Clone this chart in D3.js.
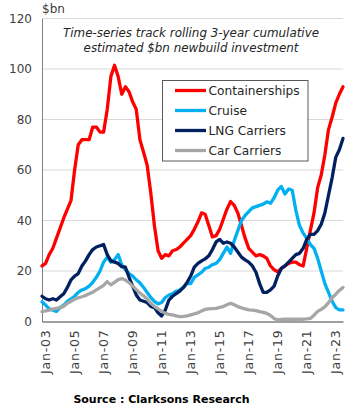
<!DOCTYPE html>
<html>
<head>
<meta charset="utf-8">
<script src="https://cdn.jsdelivr.net/npm/d3@7"></script>
<style>
  html, body { margin: 0; padding: 0; background: #fff; }
  svg { display: block; font-family: "DejaVu Sans", sans-serif; }
</style>
</head>
<body>
<svg id="chart" width="356" height="408"></svg>
<script>
// ---- data (quarterly, Jan-2003 .. Oct-2023), $bn rolling 3-year cumulative ----
const startDate = "2003-01-01";
const quarterCount = 84;

const containerships = [22,23,26.5,29,33,37,41,44.5,48,60,70,72,72,72,77,77,75,75,84,97,101.5,97,90,93,91,87,84,72,67,62,51,38,28,25,26.5,26,28,28.5,29.5,31,32.5,34,36.5,39.5,43,42.5,38,33.5,34,36.5,40.5,44.5,47.5,46,43,38,33,29,27.5,26,26.5,26,25,22,20.5,19.7,21,22,23,23.5,23.5,22.5,22,29,36,43,53,58,66,76,81,86.5,90,93];
const cruise = [7.8,6.5,5,4.5,4,5.5,6.5,8,9,10,11.5,12.5,13,14,15.5,17.5,20,23.5,25.5,23.5,24.5,26.5,22.5,20.5,19,18,16.5,15.3,13.5,11.5,9.5,8,7,7.5,9.5,10.5,11,12,12.5,13.5,15,15,17.5,18.5,19.5,21,21.5,22.5,23,24.5,27,29.5,27,32,36,40,42,43.5,45,45.5,46,46.5,47.4,46.8,49,52,53.5,50.5,52.5,52,44,38,35,33,30.5,29,25,20,15,11.5,8,5.5,4.6,4.6];
const lngCarriers = [10,9,8.5,9,8.5,9.8,11,13.5,16.5,18,19,22,24,26.5,28.5,29.5,30,30.5,26.5,24,23.5,23,21.7,21.5,17.5,14,10.5,8.5,8,7.5,6,5.5,3.5,2.2,4.5,8.5,10,11,12,13.5,15.5,18,21.5,23,24,24.8,26,28.5,31.5,32.5,31,31.5,31,29.5,27.5,25.5,24.4,23.5,22,19.5,15,11.5,11.5,12.5,14,18,21,22,23.5,25,26.5,27,29,32.5,34.5,34.5,36,38.5,43,50,57,65,68,72.5];
const carCarriers = [3.9,4.2,4.5,4.9,5.2,5.5,6,7.2,8,8.8,9.4,9.8,10.3,11,11.6,12.5,13.4,14.3,15.8,14.5,15.5,16.6,17,16.4,15.4,14,12.6,11.2,10.2,8.9,7.2,6,5,4,3.2,2.8,2.6,2.2,1.9,2,2.2,2.6,3,3.4,4.2,4.8,5,5.1,5.2,5.6,5.9,6.6,7.2,6.6,5.9,5.4,5,4.6,4.5,4.3,3.9,3.6,3.2,2.4,1.2,0.6,0.8,0.9,0.9,0.9,0.9,0.9,0.9,1,1.2,2.5,4,4.8,5.8,7.5,9.4,10.8,12.3,13.5];

const seriesNames = ["Containerships", "Cruise", "LNG Carriers", "Car Carriers"];
const seriesColors = ["#FF0000", "#00B0F0", "#002060", "#A6A6A6"];
const yTicks = [0, 20, 40, 60, 80, 100, 120];
const xTickYears = [2003, 2005, 2007, 2009, 2011, 2013, 2015, 2017, 2019, 2021, 2023];
const titleLines = ["Time-series track rolling 3-year cumulative", "estimated $bn newbuild investment"];
const yUnit = "$bn";
const sourceText = "Source : Clarksons Research";

// ---- build ----
const parse = d3.utcParse("%Y-%m-%d");
const t0 = parse(startDate);
const dates = d3.range(quarterCount).map(i => d3.utcMonth.offset(t0, i * 3));
const allSeries = [containerships, cruise, lngCarriers, carCarriers];

const svg = d3.select("#chart");
const m = { left: 42, right: 343, top: 18.5, bottom: 321.5 };

const x = d3.scaleUtc().domain([dates[0], dates[dates.length - 1]]).range([m.left, m.right]);
const y = d3.scaleLinear().domain([0, 120]).range([m.bottom, m.top]);

// gridlines
svg.append("g").selectAll("line").data(yTicks.filter(v => v > 0)).join("line")
  .attr("x1", m.left).attr("x2", m.right)
  .attr("y1", d => y(d)).attr("y2", d => y(d))
  .attr("stroke", "#D9D9D9").attr("stroke-width", 1);

// y axis
const yAxis = svg.append("g").attr("transform", `translate(${m.left},0)`)
  .call(d3.axisLeft(y).tickValues(yTicks).tickSize(0).tickPadding(10));
yAxis.select(".domain").attr("stroke", "#808080").attr("stroke-width", 1);
yAxis.selectAll("text").attr("font-size", 12).attr("fill", "#404040")
  .attr("font-family", "DejaVu Sans, sans-serif");

// x axis
const xTickDates = xTickYears.map(yr => new Date(Date.UTC(yr, 0, 1)));
const xAxis = svg.append("g").attr("transform", `translate(0,${m.bottom})`)
  .call(d3.axisBottom(x).tickValues(xTickDates).tickSize(0).tickFormat(d3.utcFormat("%b-%y")));
xAxis.select(".domain").attr("stroke", "#404040").attr("stroke-width", 1.2);
xAxis.selectAll("text")
  .attr("font-size", 12.5).attr("fill", "#404040")
  .attr("font-family", "DejaVu Sans, sans-serif")
  .attr("letter-spacing", 0.8)
  .attr("text-anchor", "end")
  .attr("transform", "rotate(-90)")
  .attr("x", -8).attr("y", 0).attr("dy", "0.45em")
  .attr("dx", 0);
xAxis.selectAll(".tick").attr("transform", d => `translate(${x(d) + 2},0)`);

// lines
const line = d3.line().x((d, i) => x(dates[i])).y(d => y(d)).curve(d3.curveLinear);
svg.append("g").selectAll("path").data(allSeries).join("path")
  .attr("d", d => line(d))
  .attr("fill", "none")
  .attr("stroke", (d, i) => seriesColors[i])
  .attr("stroke-width", 3.3)
  .attr("stroke-linejoin", "round")
  .attr("stroke-linecap", "round");

// unit label
svg.append("text").attr("x", 42).attr("y", 12.5).text(yUnit)
  .attr("font-size", 12).attr("fill", "#404040");

// title
svg.append("g").selectAll("text").data(titleLines).join("text")
  .attr("x", 191).attr("y", (d, i) => 37 + i * 14.5)
  .attr("text-anchor", "middle").attr("font-style", "italic")
  .attr("font-size", 11.9).attr("fill", "#262626")
  .text(d => d);

// legend
const lg = svg.append("g");
lg.append("rect").attr("x", 162.5).attr("y", 80.5).attr("width", 145.5).attr("height", 80.5)
  .attr("fill", "#fff").attr("stroke", "#595959").attr("stroke-width", 1);
const li = lg.selectAll("g").data(seriesNames).join("g")
  .attr("transform", (d, i) => `translate(0,${90.5 + i * 20})`);
li.append("line").attr("x1", 175).attr("x2", 206).attr("y1", 0).attr("y2", 0)
  .attr("stroke", (d, i) => seriesColors[i]).attr("stroke-width", 3.3);
li.append("text").attr("x", 208.5).attr("y", 0).attr("dy", "0.36em")
  .attr("font-size", 12.2).attr("fill", "#262626").text(d => d);

// source
svg.append("text").attr("x", 161.5).attr("y", 402.5).attr("text-anchor", "middle")
  .attr("font-weight", "bold").attr("font-size", 11).attr("fill", "#000")
  .text(sourceText);
</script>
</body>
</html>
